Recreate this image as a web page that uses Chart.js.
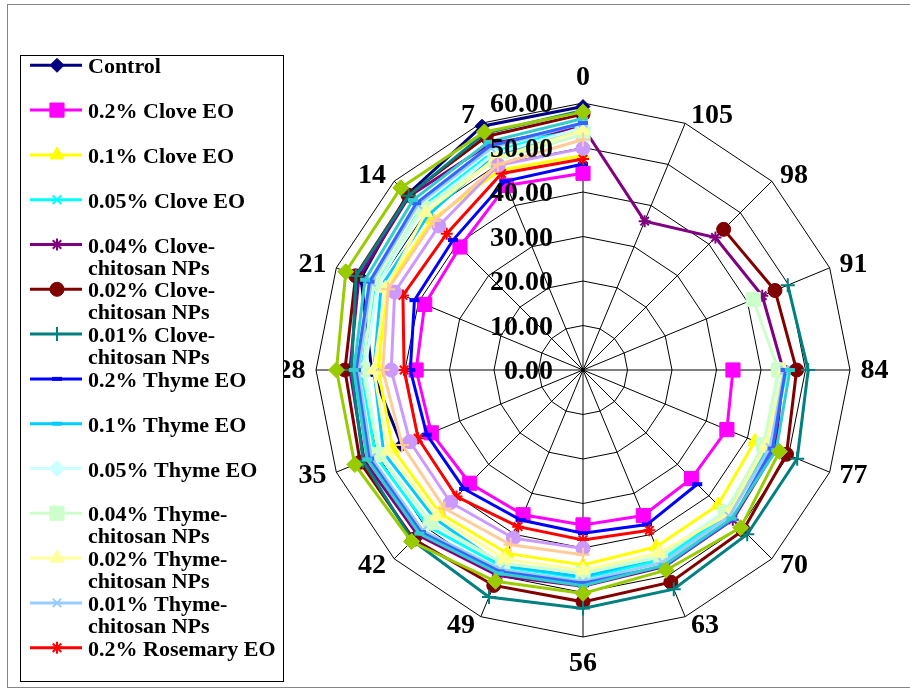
<!DOCTYPE html>
<html>
<head>
<meta charset="utf-8">
<script src="https://cdn.jsdelivr.net/npm/chart.js@4.4.1/dist/chart.umd.min.js"></script>
<style>
  html, body { margin: 0; padding: 0; background: #fff; }
  canvas { display: block; }
</style>
</head>
<body>
<canvas id="chart" width="910" height="689"></canvas>
<script>
// Storage days (categories around the dial)
const days = [0, 7, 14, 21, 28, 35, 42, 49, 56, 63, 70, 77, 84, 91, 98, 105];
const tickValues = [0, 10, 20, 30, 40, 50, 60];

const seriesNames = [
  'Control',
  '0.2% Clove EO',
  '0.1% Clove EO',
  '0.05% Clove EO',
  '0.04% Clove-chitosan NPs',
  '0.02% Clove-chitosan NPs',
  '0.01% Clove-chitosan NPs',
  '0.2% Thyme EO',
  '0.1% Thyme EO',
  '0.05% Thyme EO',
  '0.04% Thyme-chitosan NPs',
  '0.02% Thyme-chitosan NPs',
  '0.01% Thyme-chitosan NPs',
  '0.2% Rosemary EO',
  '0.1% Rosemary EO',
  '0.05% Rosemary EO',
  '0.04% Rosemary-chitosan NPs',
  '0.02% Rosemary-chitosan NPs',
  '0.01% Rosemary-chitosan NPs'
];

// One value per storage day; null once a treatment is no longer measured
const control      = [59.2, 59.3, 55.8, 54.0, 47.5, 44.1, null, null, null, null, null, null, null, null, null, null];
const clove02      = [44.2, 44.9, 39.1, 38.5, 37.5, 36.9, 36.0, 35.2, 34.8, 35.4, 34.5, 35.0, 33.7, null, null, null];
const clove01      = [48.2, 48.6, 47.9, 47.9, 46.0, 46.3, 45.5, 44.6, 43.8, 43.0, 42.9, 41.8, null, null, null, null];
const clove005     = [55.0, 53.0, 51.5, 50.5, 49.8, 50.5, 49.5, 47.8, 46.8, 46.2, 46.0, 45.5, 45.8, null, null, null];
const cloveNp004   = [54.6, 55.0, 55.2, 54.5, 52.4, 53.2, 52.5, 50.0, 48.6, 47.8, 47.6, 46.8, 45.0, 43.6, 42.1, 36.2];
const cloveNp002   = [57.5, 56.8, 55.6, 55.3, 53.5, 54.2, 53.8, 52.4, 52.1, 51.6, 50.9, 49.5, 48.0, 46.7, 44.7, null];
const cloveNp001   = [58.3, 57.6, 55.4, 55.2, 52.0, 53.5, 54.2, 55.2, 53.6, 53.3, 52.2, 52.1, 50.6, 49.8, null, null];
const thyme02      = [46.3, 45.9, 41.3, 41.0, 38.8, 38.0, 37.8, 36.5, 36.7, 37.6, 36.3, null, null, null, null, null];
const thyme01      = [54.0, 52.0, 49.2, 49.1, 47.0, 48.5, 47.2, 47.5, 46.5, 45.5, 45.5, 45.0, null, null, null, null];
const thyme005     = [54.5, 52.5, 51.0, 50.0, 49.0, 49.5, 48.5, 47.0, 45.5, 45.0, 45.0, 44.5, 44.2, null, null, null];
const thymeNp004   = [53.0, 51.0, 51.3, 50.9, 49.5, 49.7, 48.4, 47.1, 45.7, 45.5, 45.3, 43.9, 43.9, 41.4, null, null];
const thymeNp002   = [53.9, 51.5, 50.0, 48.0, 47.0, 47.5, 46.5, 46.0, 45.0, 44.5, 46.0, 44.5, 45.0, null, null, null];
const thymeNp001   = [55.5, 54.0, 52.5, 51.5, 50.5, 51.5, 51.0, 48.5, 47.5, 46.8, 46.5, 45.5, 45.3, null, null, null];
const rosemary02   = [47.4, 47.8, 43.3, 43.8, 40.2, 40.1, 40.2, 38.1, 38.2, 39.0, null, null, null, null, null, null];
const rosemary01   = [49.8, 49.8, 45.8, 45.8, 43.1, 42.1, 42.1, 40.9, 40.1, null, null, null, null, null, null, null];
const rosemary005  = [51.8, 50.0, 47.4, 47.4, 45.0, 44.0, 44.0, 42.5, 41.5, null, null, null, null, null, null, null];
const rosemaryNp004 = [55.5, 54.5, 53.0, 51.9, 51.0, 52.0, 51.5, 49.0, 47.9, 47.7, 47.5, 46.1, 45.5, null, null, null];
const rosemaryNp002 = [56.5, 55.5, 54.0, 53.0, 51.5, 52.5, 52.0, 49.5, 48.5, 47.5, 47.2, 47.0, 46.5, null, null, null];
const rosemaryNp001 = [58.0, 57.9, 57.9, 57.7, 55.4, 55.5, 54.5, 51.4, 50.2, 48.7, 50.1, 47.8, null, null, null, null];

const seriesValues = [
  control, clove02, clove01, clove005, cloveNp004, cloveNp002, cloveNp001,
  thyme02, thyme01, thyme005, thymeNp004, thymeNp002, thymeNp001,
  rosemary02, rosemary01, rosemary005, rosemaryNp004, rosemaryNp002, rosemaryNp001
];

// Only the first entries fit in the legend box
const legendCount = 14;

// Line colour and marker for each series
const seriesStyles = [
  { color: '#000080', marker: 'rectRot',  size: 7 },
  { color: '#FF00FF', marker: 'rect',     size: 10 },
  { color: '#FFFF00', marker: 'triangle', size: 8 },
  { color: '#00FFFF', marker: 'crossRot', size: 6 },
  { color: '#800080', marker: 'star',     size: 6 },
  { color: '#800000', marker: 'circle',   size: 7 },
  { color: '#008080', marker: 'cross',    size: 7 },
  { color: '#0000FF', marker: 'line',     size: 5 },
  { color: '#00CCFF', marker: 'line',     size: 5 },
  { color: '#CCFFFF', marker: 'rectRot',  size: 8 },
  { color: '#CCFFCC', marker: 'rect',     size: 10 },
  { color: '#FFFF99', marker: 'triangle', size: 8 },
  { color: '#99CCFF', marker: 'crossRot', size: 6 },
  { color: '#FF0000', marker: 'star',     size: 6 },
  { color: '#CC99FF', marker: 'circle',   size: 7 },
  { color: '#FFCC99', marker: 'cross',    size: 7 },
  { color: '#3366FF', marker: 'line',     size: 5 },
  { color: '#33CCCC', marker: 'line',     size: 5 },
  { color: '#99CC00', marker: 'rectRot',  size: 8 }
];

function markerBorder(marker) {
  if (marker === 'line') return 4;
  if (marker === 'cross' || marker === 'crossRot' || marker === 'star') return 2;
  return 1;
}

// Day 0 sits at the top and later days run counter-clockwise
const dialOrder = days.map((_, j) => (days.length - j) % days.length);
const dialLabels = dialOrder.map(i => String(days[i]));

const datasets = seriesValues.map((vals, k) => {
  const st = seriesStyles[k];
  return {
    label: seriesNames[k],
    data: dialOrder.map(i => vals[i]),
    borderColor: st.color,
    backgroundColor: st.color,
    pointBackgroundColor: st.color,
    pointBorderColor: st.color,
    pointStyle: st.marker,
    pointRadius: st.size,
    pointBorderWidth: markerBorder(st.marker),
    borderWidth: 3,
    fill: false,
    tension: 0,
    spanGaps: false,
    order: seriesValues.length - k
  };
});

const SERIF = '"Liberation Serif", "Times New Roman", serif';

const decorations = {
  id: 'decorations',
  beforeDraw(chart) {
    const ctx = chart.ctx;
    ctx.save();
    ctx.fillStyle = '#ffffff';
    ctx.fillRect(0, 0, chart.width, chart.height);
    ctx.strokeStyle = '#858585';
    ctx.lineWidth = 1;
    ctx.strokeRect(7.5, 4.5, 960, 683);
    ctx.restore();
  },
  afterDraw(chart) {
    const ctx = chart.ctx;
    const scale = chart.scales.r;
    ctx.save();
    ctx.fillStyle = '#000';

    // Value labels up the day-0 axis
    ctx.font = 'bold 28px ' + SERIF;
    ctx.textAlign = 'right';
    ctx.textBaseline = 'alphabetic';
    tickValues.forEach(v => {
      const y = scale.yCenter - scale.getDistanceFromCenterForValue(v);
      ctx.fillText(v.toFixed(2), scale.xCenter - 30, y + 9);
    });

    // Day labels just outside the outer ring
    dialLabels.forEach((lab, j) => {
      const a = scale.getIndexAngle(j);
      const p = scale.getPointPosition(j, scale.drawingArea);
      const s = Math.sin(a), c = Math.cos(a);
      let x, cy;
      if (Math.abs(s) < 0.01) {
        ctx.textAlign = 'center';
        x = p.x;
        cy = p.y + (c > 0 ? -27 : 25);
      } else {
        const gap = 3 + 7.5 * Math.abs(s);
        ctx.textAlign = s > 0 ? 'left' : 'right';
        x = p.x + (s > 0 ? gap : -gap);
        cy = p.y - c * 9 - 1.5;
      }
      ctx.fillText(lab, x, cy + 9.3);
    });

    // Legend box
    ctx.fillStyle = '#ffffff';
    ctx.fillRect(21, 56, 262, 626);
    ctx.strokeStyle = '#000';
    ctx.lineWidth = 1;
    ctx.strokeRect(20.5, 55.5, 263, 626);

    ctx.font = 'bold 22px ' + SERIF;
    ctx.textAlign = 'left';
    for (let k = 0; k < legendCount; k++) {
      const st = seriesStyles[k];
      const y = 65.3 + 44.8 * k;
      ctx.strokeStyle = st.color;
      ctx.lineWidth = 3;
      ctx.beginPath();
      ctx.moveTo(30, y);
      ctx.lineTo(82, y);
      ctx.stroke();
      ctx.fillStyle = st.color;
      ctx.lineWidth = markerBorder(st.marker);
      Chart.helpers.drawPoint(ctx, {
        pointStyle: st.marker, radius: st.size, rotation: 0,
        borderWidth: markerBorder(st.marker)
      }, 57, y);
      ctx.fillStyle = '#000';
      const lines = seriesNames[k].split(/(?<=-)/);
      lines.forEach((t, n) => ctx.fillText(t, 88, y + 8 + n * 22));
    }
    ctx.restore();
  }
};

new Chart(document.getElementById('chart'), {
  type: 'radar',
  data: { labels: dialLabels, datasets },
  options: {
    responsive: false,
    devicePixelRatio: 1,
    animation: false,
    events: [],
    layout: { padding: { left: 316, right: 60, top: 103, bottom: 52 } },
    plugins: { legend: { display: false }, tooltip: { enabled: false } },
    scales: {
      r: {
        min: 0,
        max: 60,
        ticks: { display: false, stepSize: 10 },
        pointLabels: { display: false },
        grid: { color: '#000', lineWidth: 1 },
        angleLines: { color: '#000', lineWidth: 1 }
      }
    }
  },
  plugins: [decorations]
});
</script>
</body>
</html>
